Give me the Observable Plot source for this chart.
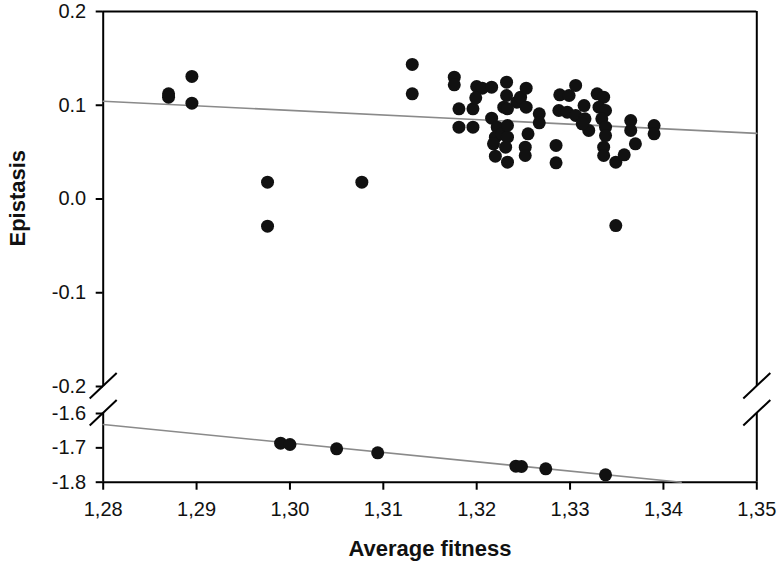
<!DOCTYPE html>
<html><head><meta charset="utf-8">
<script src="https://cdn.jsdelivr.net/npm/d3@7"></script>
<script src="https://cdn.jsdelivr.net/npm/@observablehq/plot@0.6"></script>
<style>
html,body{margin:0;padding:0;background:#fff;}
#chart{position:relative;width:779px;height:566px;}
#chart svg{display:block;position:absolute;left:0;top:0;}
#chart [aria-label="y-axis"] .tick line, #chart [aria-label="x-axis"] .tick line,
#chart [aria-label="y-axis tick"] path, #chart [aria-label="x-axis tick"] path,
#chart [aria-label="y-axis tick"] line, #chart [aria-label="x-axis tick"] line {stroke-width:2px !important; stroke:#000 !important;}
</style></head><body><div id="chart"></div>
<script>
// Upper panel (epistasis between -0.2 and 0.2)
const fitnessTop = [
  1.2870, 1.2870, 1.2895, 1.2895, 1.2976, 1.2976, 1.3077, 1.3131, 1.3131,
  1.3176, 1.3176, 1.3181, 1.3181, 1.3196, 1.3196, 1.3200, 1.3206, 1.3199,
  1.3216, 1.3216, 1.3232, 1.3232, 1.3229, 1.3243, 1.3247, 1.3253, 1.3253,
  1.3233, 1.3222, 1.3220, 1.3227, 1.3233, 1.3231, 1.3233, 1.3220, 1.3233,
  1.3218, 1.3255, 1.3252, 1.3252, 1.3267, 1.3267, 1.3285, 1.3285, 1.3289,
  1.3299, 1.3306, 1.3288, 1.3297, 1.3306, 1.3315, 1.3316, 1.3320, 1.3313,
  1.3329, 1.3336, 1.3331, 1.3338, 1.3334, 1.3338, 1.3338, 1.3336, 1.3336,
  1.3349, 1.3358, 1.3370, 1.3365, 1.3365, 1.3390, 1.3390, 1.3349
];
const epistasisTop = [
  0.1122, 0.1086, 0.1307, 0.1022, 0.0179, -0.0290, 0.0179, 0.1435, 0.1122,
  0.1299, 0.1218, 0.0962, 0.0766, 0.0962, 0.0766, 0.1200, 0.1182, 0.1079,
  0.1193, 0.0862, 0.1246, 0.1104, 0.0979, 0.1033, 0.1086, 0.1182, 0.0979,
  0.0962, 0.0766, 0.0659, 0.0695, 0.0659, 0.0553, 0.0784, 0.0457, 0.0393,
  0.0589, 0.0695, 0.0553, 0.0464, 0.0909, 0.0813, 0.0571, 0.0386, 0.1111,
  0.1104, 0.1211, 0.0944, 0.0926, 0.0891, 0.0997, 0.0855, 0.0731, 0.0802,
  0.1122, 0.1086, 0.0979, 0.0944, 0.0855, 0.0766, 0.0677, 0.0553, 0.0464,
  0.0393, 0.0471, 0.0589, 0.0837, 0.0731, 0.0784, 0.0695, -0.0283
];
// Lower panel (epistasis between -1.8 and -1.6)
const fitnessBottom = [1.2990, 1.3000, 1.3050, 1.3094, 1.3242, 1.3248, 1.3274, 1.3338];
const epistasisBottom = [-1.6865, -1.6902, -1.7028, -1.7144, -1.7534, -1.7543, -1.7610, -1.7785];
// Regression lines (end points)
const fitTopX = [1.28, 1.35];
const fitTopY = [0.1043, 0.0700];
const fitBottomX = [1.28, 1.3419];
const fitBottomY = [-1.632, -1.800];
// Axes
const xDomain = [1.28, 1.35];
const yDomainTop = [-0.2, 0.2];
const yDomainBottom = [-1.8, -1.6];
const xTicks = [1.28, 1.29, 1.30, 1.31, 1.32, 1.33, 1.34, 1.35];
const yTicksTop = [-0.2, -0.1, 0.0, 0.1, 0.2];
const yTicksBottom = [-1.8, -1.7, -1.6];
const xLabel = "Average fitness";
const yLabel = "Epistasis";

const toRows = (xs, ys) => xs.map((x, i) => ({x, y: ys[i]}));
const fmtX = d => d.toFixed(2).replace(".", ",");
const fmtY = d => d.toFixed(1);
const font = {fontFamily: "'Liberation Sans', Arial, sans-serif", fontSize: "20px", color: "#111", background: "none"};

function breakMarks(yv) {
  return (index, scales) => {
    const g = d3.create("svg:g").attr("stroke", "#000").attr("stroke-width", 2).attr("fill", "none");
    for (const xv of xDomain) {
      const cx = scales.x(xv), cy = scales.y(yv);
      g.append("line").attr("x1", cx - 13).attr("y1", cy + 12.5).attr("x2", cx + 14).attr("y2", cy - 13);
    }
    return g.node();
  };
}

const common = {width: 779, height: 566, marginLeft: 102.7, marginRight: 22.7, style: font};

const topChart = Plot.plot({
  ...common, marginTop: 11, marginBottom: 180,
  x: {domain: xDomain, axis: null},
  y: {domain: yDomainTop, ticks: yTicksTop, tickFormat: fmtY, tickSize: 7, tickPadding: 10, label: null},
  marks: [
    Plot.ruleX(xDomain, {y1: yDomainTop[0], y2: yDomainTop[1], stroke: "#000", strokeWidth: 2}),
    Plot.ruleY([yDomainTop[1]], {x1: xDomain[0], x2: xDomain[1], stroke: "#000", strokeWidth: 2}),
    breakMarks(yDomainTop[0]),
    Plot.line(toRows(fitTopX, fitTopY), {x: "x", y: "y", stroke: "#8a8a8a", strokeWidth: 1.6}),
    Plot.dot(toRows(fitnessTop, epistasisTop), {x: "x", y: "y", r: 6.5, fill: "#111", stroke: "none"}),
    Plot.text([yLabel], {frameAnchor: "left", dx: -85, dy: 47.5, rotate: -90, fontWeight: "bold", fontSize: 22, fill: "#111"})
  ]
});

const bottomChart = Plot.plot({
  ...common, marginTop: 413, marginBottom: 84.3,
  x: {domain: xDomain, ticks: xTicks, tickFormat: fmtX, tickSize: 8, tickPadding: 12, label: null},
  y: {domain: yDomainBottom, ticks: yTicksBottom, tickFormat: fmtY, tickSize: 7, tickPadding: 10, label: null},
  marks: [
    Plot.ruleX(xDomain, {y1: yDomainBottom[0], y2: yDomainBottom[1], stroke: "#000", strokeWidth: 2}),
    Plot.ruleY([yDomainBottom[0]], {x1: xDomain[0], x2: xDomain[1], stroke: "#000", strokeWidth: 2}),
    breakMarks(yDomainBottom[1]),
    Plot.line(toRows(fitBottomX, fitBottomY), {x: "x", y: "y", stroke: "#8a8a8a", strokeWidth: 1.6}),
    Plot.dot(toRows(fitnessBottom, epistasisBottom), {x: "x", y: "y", r: 6.5, fill: "#111", stroke: "none"}),
    Plot.text([xLabel], {frameAnchor: "bottom", dy: 74, fontWeight: "bold", fontSize: 22, fill: "#111"})
  ]
});

const host = document.getElementById("chart");
host.appendChild(topChart);
host.appendChild(bottomChart);
</script>
</body></html>
